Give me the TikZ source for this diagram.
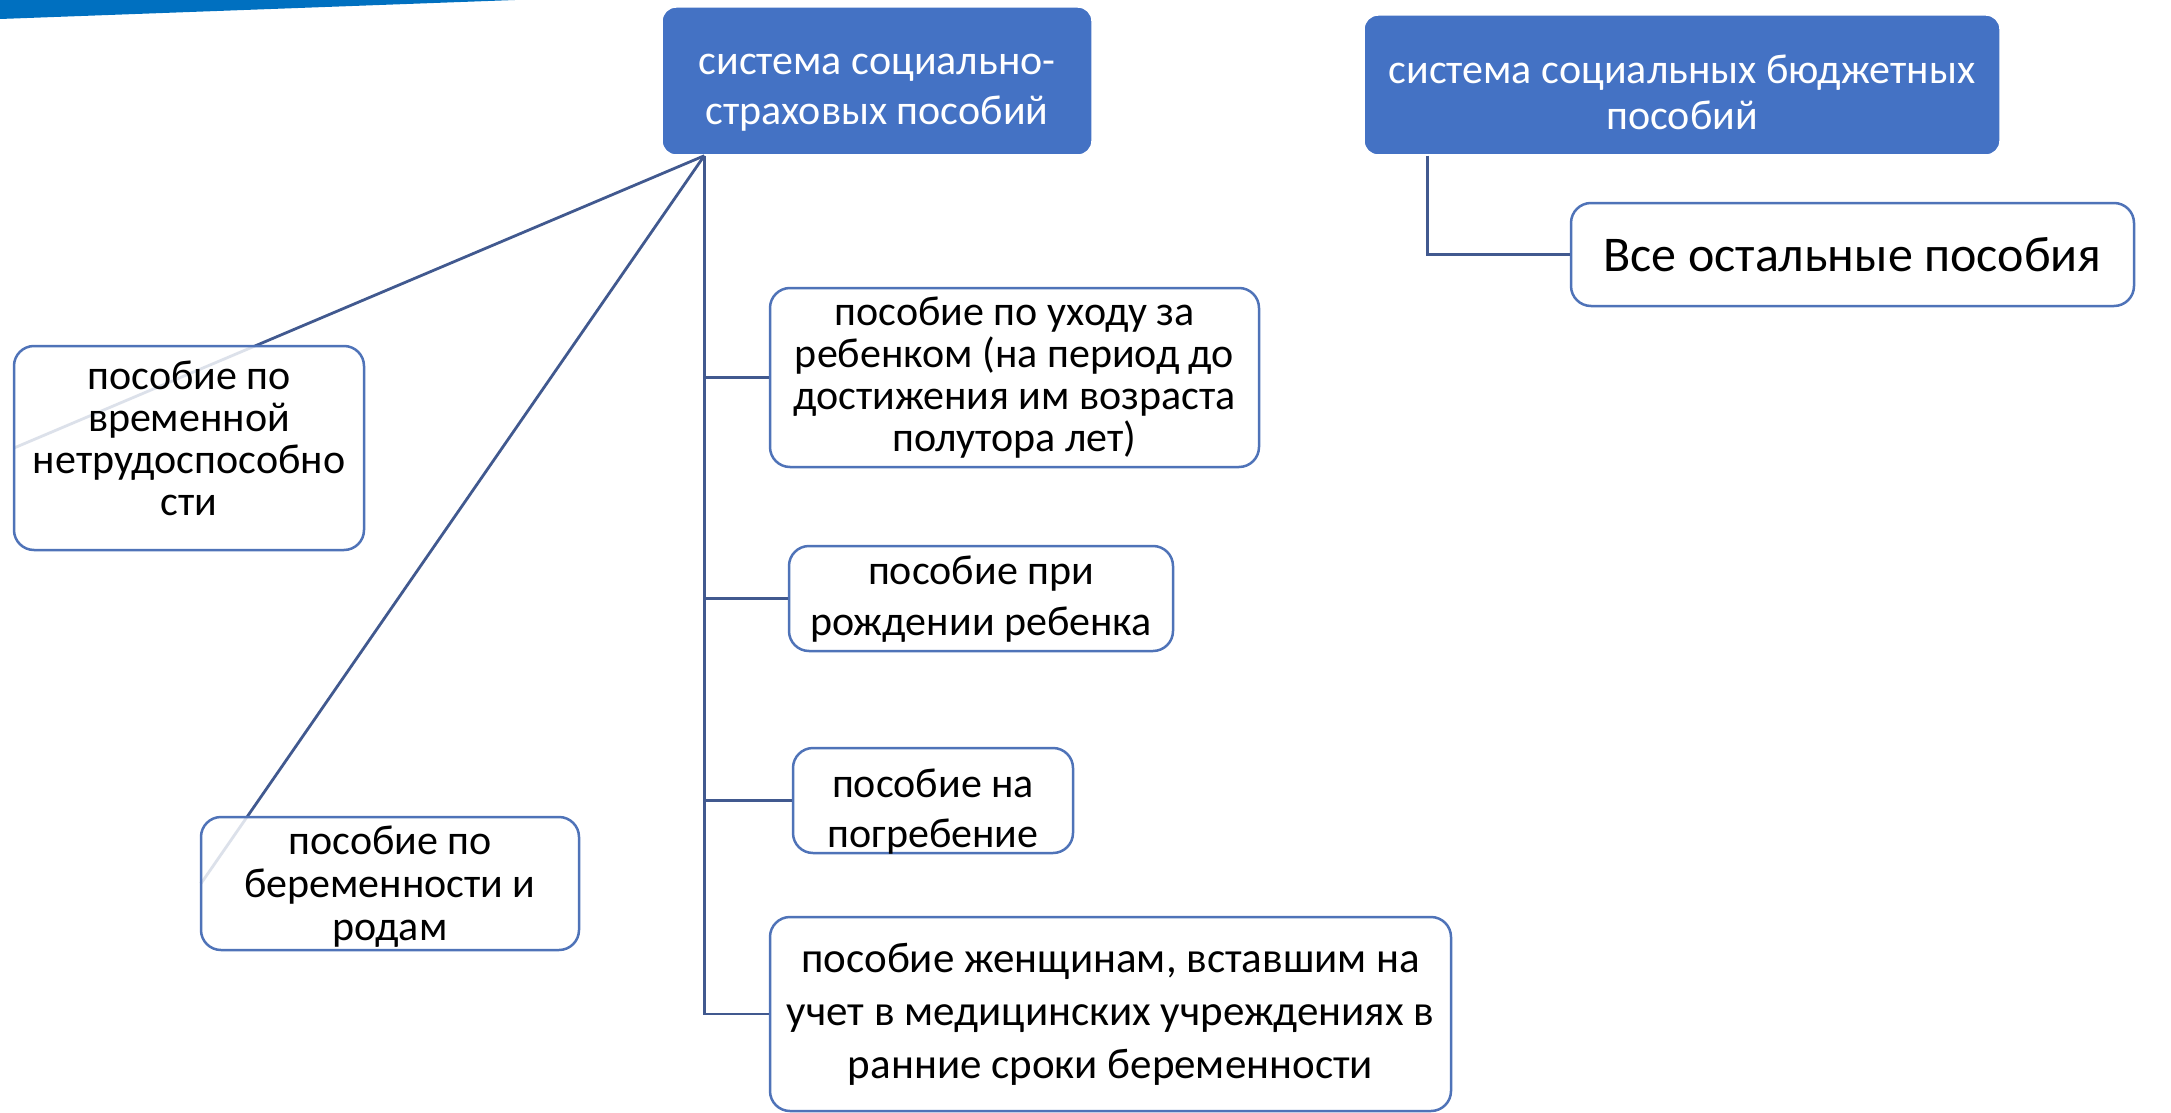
\documentclass[tikz,border=0pt]{standalone}
\usepackage{fontspec}
\setmainfont{Carlito}
\definecolor{smblue}{HTML}{4472C4}
\definecolor{wedge}{HTML}{0070C0}
\definecolor{connc}{HTML}{41598F}
\definecolor{bord}{HTML}{4F73B8}
\tikzset{
  bluebox/.style={rectangle, rounded corners=14pt, fill=smblue, draw=white, line width=1.5pt,
     inner sep=0pt},
  bluetext/.style={text=white, align=center, inner sep=0pt, fill=none, draw=none,
     font=\fontsize{42}{50}\selectfont},
  wbox/.style={rectangle, rounded corners=20pt, fill=white, fill opacity=0.82,
     draw=bord, draw opacity=1, line width=2.5pt, inner sep=0pt},
  wtext/.style={text=black, align=center, inner sep=0pt, fill=none, draw=none,
     text opacity=1, font=\fontsize{42}{42}\selectfont},
  conn/.style={draw=connc, line width=2.8pt},
}
\begin{document}
\begin{tikzpicture}[x=1pt,y=-1pt]
\useasboundingbox (0,0) rectangle (2171,1113);
\fill[wedge] (0,0) -- (515,0) -- (0,19) -- cycle;

\node[bluebox, minimum width=430, minimum height=148,
  label={[bluetext, yshift=-12pt]center:{система социально-\\страховых пособий}}] (b1) at (877,81) {};
\node[bluebox, minimum width=636, minimum height=140,
  label={[bluetext, font=\fontsize{42}{46}\selectfont, yshift=-7pt]center:{система социальных бюджетных\\пособий}}] (b2) at (1682,85) {};

\coordinate (o) at ([xshift=43pt]b1.south west);
\coordinate (o2) at ([xshift=64pt]b2.south west);

\coordinate (n1w) at (14,448);
\coordinate (n2w) at (201,883.5);

\node[wbox, minimum width=563, minimum height=103,
  label={[wtext, font=\fontsize{50}{52}\selectfont]center:{Все остальные пособия}}] (all) at (1852.5,254.5) {};
\draw[conn] (o2) |- (all.west);

\draw[conn] (o) -- (n1w);
\draw[conn] (o) -- (n2w);

\node[wbox, minimum width=350, minimum height=204,
  label={[wtext, yshift=10pt]center:{пособие по\\временной\\нетрудоспособно\\сти}}] (n1) at (189,448) {};
\node[wbox, minimum width=378, minimum height=133,
  label={[wtext, font=\fontsize{42}{43}\selectfont, yshift=-3pt]center:{пособие по\\беременности и\\родам}}] (n2) at (390,883.5) {};

\node[wbox, minimum width=489, minimum height=179,
  label={[wtext]center:{пособие по уходу за\\ребенком (на период до\\достижения им возраста\\полутора лет)}}] (r1) at (1014.5,377.5) {};
\node[wbox, minimum width=384, minimum height=105,
  label={[wtext, font=\fontsize{42}{51}\selectfont, yshift=-1pt]center:{пособие при\\рождении ребенка}}] (r2) at (981,598.5) {};
\node[wbox, minimum width=280, minimum height=105,
  label={[wtext, font=\fontsize{42}{50}\selectfont, yshift=-11pt]center:{пособие на\\погребение}}] (r3) at (933,800.5) {};
\node[wbox, minimum width=681, minimum height=194,
  label={[wtext, font=\fontsize{43}{53}\selectfont]center:{пособие женщинам, вставшим на\\учет в медицинских учреждениях в\\ранние сроки беременности}}] (r4) at (1110.5,1014) {};

\draw[conn] (o) |- (r4.west);
\draw[conn] (o |- r1.west) -- (r1.west);
\draw[conn] (o |- r2.west) -- (r2.west);
\draw[conn] (o |- r3.west) -- (r3.west);
\end{tikzpicture}
\end{document}
